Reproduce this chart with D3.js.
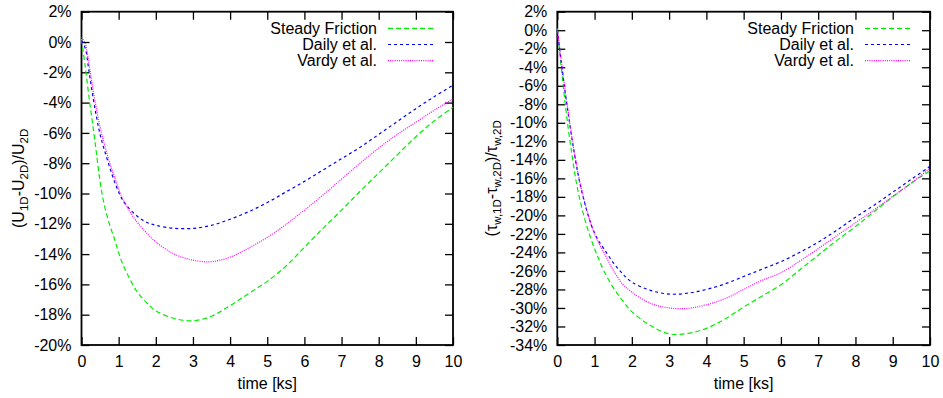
<!DOCTYPE html>
<html>
<head>
<meta charset="utf-8">
<script src="https://cdn.jsdelivr.net/npm/d3@7"></script>
<style>
  html, body { margin: 0; padding: 0; background: #fff; }
  svg { display: block; }
  text { font-family: "Liberation Sans", Arial, Helvetica, sans-serif; fill: #000; }
</style>
</head>
<body>
<svg id="chart" width="943" height="398"></svg>
<script>
// Sample times in ks, shared by every series
const timeKs = [0, 0.1, 0.2, 0.3, 0.4, 0.5, 0.6, 0.75, 0.9, 1.0, 1.1, 1.25, 1.5, 1.75, 2, 2.5, 3, 3.5, 4, 4.5, 5, 5.5, 6, 6.5, 7, 7.5, 8, 8.5, 9, 9.5, 10];

// Relative velocity error (%), left panel
const velSteady = [0.2, -1.6, -3.6, -5.4, -7.3, -9.2, -10.6, -12.0, -13.1, -13.9, -14.6, -15.4, -16.5, -17.2, -17.75, -18.25, -18.4, -18.1, -17.4, -16.6, -15.8, -14.8, -13.55, -12.3, -11.1, -9.85, -8.65, -7.45, -6.25, -5.2, -4.3];
const velDaily  = [0.1, -0.4, -1.9, -3.5, -4.9, -6.1, -7.0, -8.2, -9.3, -9.9, -10.4, -10.9, -11.5, -11.9, -12.1, -12.3, -12.3, -12.1, -11.7, -11.2, -10.6, -9.9, -9.2, -8.45, -7.7, -6.95, -6.1, -5.25, -4.4, -3.6, -2.85];
const velVardy  = [0.3, -0.1, -1.4, -3.0, -4.4, -5.6, -6.6, -7.9, -9.0, -9.7, -10.3, -11.0, -11.9, -12.6, -13.2, -14.0, -14.4, -14.5, -14.2, -13.6, -12.9, -12.05, -11.1, -10.1, -9.05, -8.0, -7.0, -6.1, -5.3, -4.5, -3.75];

// Relative wall shear stress error (%), right panel
const tauSteady = [0.2, -3.8, -7.5, -10.8, -13.6, -16.2, -18.2, -20.6, -22.5, -23.6, -24.6, -26.0, -27.8, -29.2, -30.4, -31.9, -32.8, -32.75, -32.2, -31.2, -29.9, -28.7, -27.5, -25.9, -24.3, -22.7, -21.2, -19.6, -18.0, -16.5, -15.2];
const tauDaily  = [0, -3.2, -6.4, -9.2, -11.9, -14.3, -16.4, -18.9, -20.9, -21.9, -22.7, -23.6, -25.1, -26.3, -27.2, -28.1, -28.5, -28.4, -28.0, -27.4, -26.6, -25.8, -25.0, -24.0, -22.9, -21.6, -20.2, -18.9, -17.5, -16.1, -14.7];
const tauVardy  = [0.1, -3.0, -6.2, -9.0, -11.8, -14.2, -16.3, -18.8, -20.9, -22.0, -22.9, -24.0, -25.9, -27.4, -28.3, -29.5, -30.0, -30.05, -29.65, -29.0, -28.0, -27.0, -26.2, -24.95, -23.6, -22.2, -20.8, -19.4, -17.95, -16.5, -14.9];

// Legend entries and tick labels
const seriesNames = ["Steady Friction", "Daily et al.", "Vardy et al."];
const xTicks = [0, 1, 2, 3, 4, 5, 6, 7, 8, 9, 10];
const yTicksVel = [2, 0, -2, -4, -6, -8, -10, -12, -14, -16, -18, -20];
const yTicksTau = [2, 0, -2, -4, -6, -8, -10, -12, -14, -16, -18, -20, -22, -24, -26, -28, -30, -32, -34];
const xLabel = "time [ks]";

const styles = [
  { color: "#00ee00", dash: "5,3" },
  { color: "#0000ff", dash: "3,3" },
  { color: "#ff00ff", dash: "1,1.2" }
];

const svg = d3.select("#chart");
svg.append("rect").attr("width", 943).attr("height", 398).attr("fill", "#fff");

const FONT = 16;
const TICK = 8;

function drawPanel(cfg) {
  const x = d3.scaleLinear().domain([0, 10]).range([cfg.left, cfg.right]);
  const y = d3.scaleLinear().domain([cfg.yTicks[cfg.yTicks.length - 1], cfg.yTicks[0]]).range([cfg.bottom, cfg.top]);
  const g = svg.append("g");

  const fmt = d => d + "%";
  const styleAxis = sel => {
    sel.select(".domain").remove();
    sel.selectAll(".tick line").attr("stroke", "#000").attr("stroke-width", 1.3);
    sel.selectAll(".tick text").attr("font-size", FONT).attr("font-family", null).attr("fill", "#000");
  };

  g.append("g").attr("transform", `translate(${cfg.left},0)`)
    .call(d3.axisLeft(y).tickValues(cfg.yTicks).tickSizeInner(-TICK).tickSizeOuter(0).tickPadding(10).tickFormat(fmt))
    .call(styleAxis);
  g.append("g").attr("transform", `translate(${cfg.right},0)`)
    .call(d3.axisRight(y).tickValues(cfg.yTicks).tickSizeInner(-TICK).tickSizeOuter(0).tickFormat(""))
    .call(styleAxis);
  g.append("g").attr("transform", `translate(0,${cfg.bottom})`)
    .call(d3.axisBottom(x).tickValues(xTicks).tickSizeInner(-TICK).tickSizeOuter(0).tickPadding(11).tickFormat(d => d))
    .call(styleAxis);
  g.append("g").attr("transform", `translate(0,${cfg.top})`)
    .call(d3.axisTop(x).tickValues(xTicks).tickSizeInner(-TICK).tickSizeOuter(0).tickFormat(""))
    .call(styleAxis);

  // frame
  g.append("rect")
    .attr("x", cfg.left).attr("y", cfg.top)
    .attr("width", cfg.right - cfg.left).attr("height", cfg.bottom - cfg.top)
    .attr("fill", "none").attr("stroke", "#000").attr("stroke-width", 1.8);

  // curves
  const line = d3.line().x((d, i) => x(timeKs[i])).y(d => y(d)).curve(d3.curveCatmullRom.alpha(0.5));
  cfg.series.forEach((vals, k) => {
    g.append("path").datum(vals)
      .attr("d", line)
      .attr("fill", "none")
      .attr("stroke", styles[k].color)
      .attr("stroke-width", 1.2)
      .attr("stroke-dasharray", styles[k].dash);
  });

  // legend
  seriesNames.forEach((name, k) => {
    const ly = cfg.legendY + k * 16.2;
    g.append("text")
      .attr("x", cfg.legendTextX).attr("y", ly)
      .attr("text-anchor", "end").attr("dominant-baseline", "central")
      .attr("font-size", FONT).text(name);
    g.append("line")
      .attr("x1", cfg.legendTextX + 11).attr("x2", cfg.legendTextX + 56)
      .attr("y1", ly).attr("y2", ly)
      .attr("stroke", styles[k].color).attr("stroke-width", 1.2)
      .attr("stroke-dasharray", styles[k].dash);
  });

  // x label
  g.append("text")
    .attr("x", (cfg.left + cfg.right) / 2).attr("y", 383)
    .attr("text-anchor", "middle").attr("dominant-baseline", "central")
    .attr("font-size", FONT).text(xLabel);

  // y label with subscripts
  const yl = g.append("text")
    .attr("transform", `translate(${cfg.yLabelX},${(cfg.top + cfg.bottom) / 2}) rotate(-90)`)
    .attr("text-anchor", "middle")
    .attr("font-size", FONT);
  let shifted = false;
  cfg.yLabel.forEach(part => {
    const ts = yl.append("tspan").text(part.t);
    if (part.sub) {
      ts.attr("dy", 4).attr("font-size", 11.5);
      shifted = true;
    } else if (shifted) {
      ts.attr("dy", -4);
      shifted = false;
    }
  });
}

drawPanel({
  left: 81.5, right: 453, top: 11.7, bottom: 345,
  yTicks: yTicksVel,
  series: [velSteady, velDaily, velVardy],
  legendTextX: 377, legendY: 28.3,
  yLabelX: 24,
  yLabel: [{ t: "(U" }, { t: "1D", sub: true }, { t: "-U" }, { t: "2D", sub: true }, { t: ")/U" }, { t: "2D", sub: true }]
});

drawPanel({
  left: 557.3, right: 930, top: 11.7, bottom: 345,
  yTicks: yTicksTau,
  series: [tauSteady, tauDaily, tauVardy],
  legendTextX: 854, legendY: 28.3,
  yLabelX: 497,
  yLabel: [{ t: "(\u03C4" }, { t: "w,1D", sub: true }, { t: "-\u03C4" }, { t: "w,2D", sub: true }, { t: ")/\u03C4" }, { t: "w,2D", sub: true }]
});
</script>
</body>
</html>
